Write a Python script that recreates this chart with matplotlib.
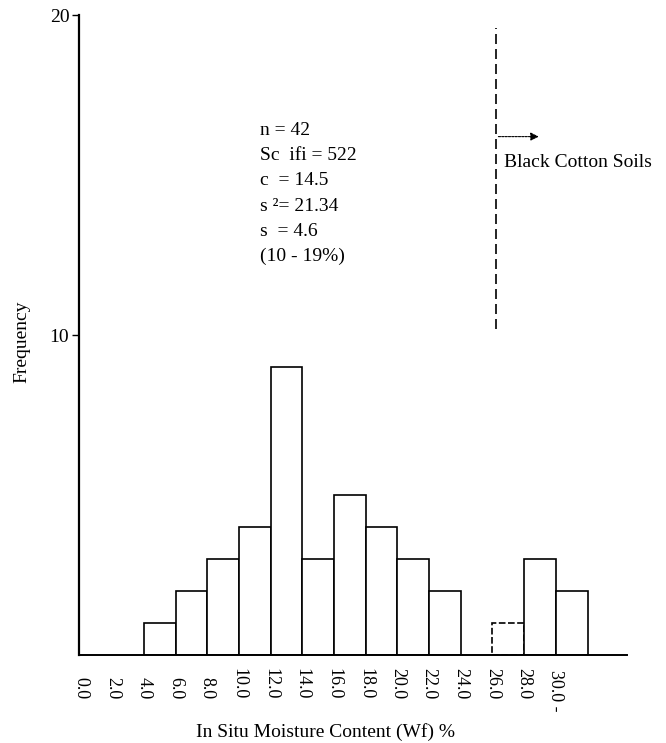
import matplotlib
matplotlib.use("Agg")
from matplotlib import pyplot as plt
from matplotlib.transforms import ScaledTranslation

# bin edges (% moisture) and the count in each 2 % class
BIN_LEFT = [0.0, 2.0, 4.0, 6.0, 8.0, 10.0, 12.0, 14.0, 16.0, 18.0, 20.0, 22.0, 24.0, 26.0, 28.0, 30.0]
FREQ = [0, 0, 1, 2, 3, 4, 9, 3, 5, 4, 3, 2, 0, 1, 3, 2]
TICK_LABELS = ["0.0", "2.0", "4.0", "6.0", "8.0", "10.0", "12.0", "14.0", "16.0",
               "18.0", "20.0", "22.0", "24.0", "26.0", "28.0", "30.0 -"]
STATS = ["n = 42", "Sc  ifi = 522", "c  = 14.5", "s ²= 21.34", "s  = 4.6", "(10 - 19%)"]
BCS_LIMIT = 26.2

plt.rcParams['font.family'] = ['Liberation Serif', 'DejaVu Serif']

fig = plt.figure(figsize=(6.66, 7.43), dpi=100)
ax = fig.add_axes([0.1186, 0.1184, 0.823, 0.8614])

for left, f in zip(BIN_LEFT, FREQ):
    if f == 0:
        continue
    ls = (0, (4, 1.5)) if left == 26.0 else '-'
    ax.bar(left, f, width=2.0, align='edge', facecolor='white',
           edgecolor='black', linewidth=1.2, linestyle=ls)

ax.set_xlim(-0.1, 34.5)
ax.set_ylim(0, 20)
ax.spines['top'].set_visible(False)
ax.spines['right'].set_visible(False)
ax.spines['left'].set_linewidth(1.6)
ax.spines['bottom'].set_linewidth(1.4)

ax.set_yticks([10, 20])
ax.set_yticklabels(["10", "20"], fontsize=14)
ax.tick_params(axis='y', length=5, width=1, pad=2)

# rotated labels, their ends lined up at one height below the axis
ax.set_xticks(BIN_LEFT)
ax.set_xticklabels(TICK_LABELS, rotation=270, fontsize=13, va='bottom', ha='center')
ax.tick_params(axis='x', length=0, pad=32)
# the trailing dash on the last label hangs below the others
last = ax.get_xticklabels()[-1]
last.set_transform(last.get_transform() + ScaledTranslation(0, -0.12, fig.dpi_scale_trans))

ax.set_xlabel("In Situ Moisture Content (Wf) %", fontsize=14)
ax.xaxis.set_label_coords(0.45, -0.106)
ax.set_ylabel("Frequency", fontsize=14)
ax.yaxis.set_label_coords(-0.089, 0.49)

# stats block
for i, line in enumerate(STATS):
    ax.text(11.3, 16.4 - i * 0.79, line, fontsize=14, va='center', ha='left')

# black cotton soils boundary
ax.plot([BCS_LIMIT, BCS_LIMIT], [10.2, 19.6], color='black', linewidth=1.2,
        linestyle=(0, (6, 3)))
ax.annotate("", xy=(29.1, 16.2), xytext=(BCS_LIMIT, 16.2),
            arrowprops=dict(arrowstyle='-|>', color='black', lw=0.8,
                            linestyle=(0, (2, 1)), mutation_scale=12))
ax.text(26.7, 15.4, "Black Cotton Soils", fontsize=14, va='center', ha='left')

fig.savefig("out.png", dpi=100)
